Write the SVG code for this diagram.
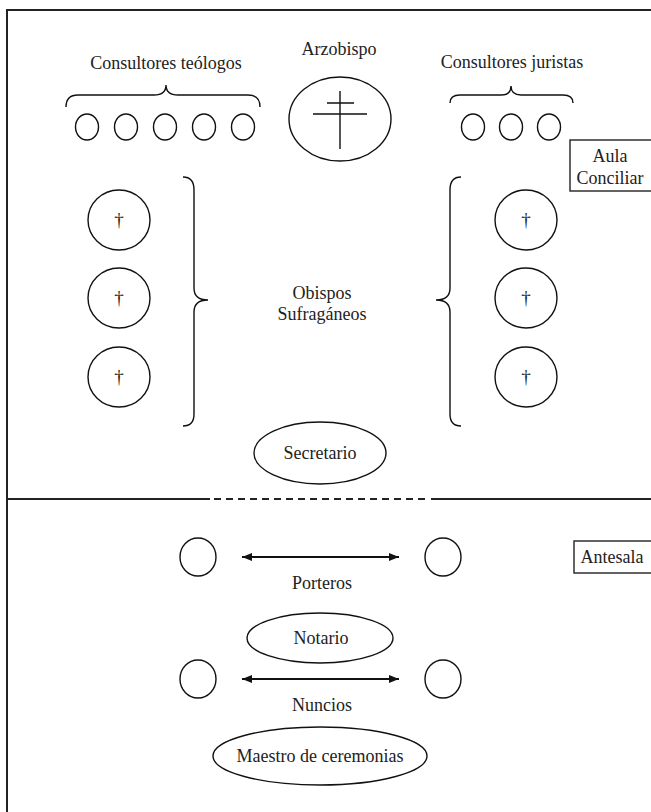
<svg xmlns="http://www.w3.org/2000/svg" width="651" height="812" viewBox="0 0 651 812" font-family="'Liberation Serif', 'Times New Roman', 'DejaVu Serif', serif">
<defs>
<style>
text{font-family:'Liberation Serif','Times New Roman','DejaVu Serif',serif}
.t{font-size:18px;fill:#222;text-anchor:middle}
.d{font-size:19px;fill:#222;text-anchor:middle}
.s{fill:none;stroke:#111;stroke-width:1.4}
.b{fill:none;stroke:#111;stroke-width:1.4}
.f{fill:none;stroke:#222;stroke-width:2}
.box{fill:#fff;stroke:#222;stroke-width:1.4}
</style>
<marker id="ah" viewBox="0 0 10 8" refX="10" refY="4" markerWidth="10" markerHeight="8" markerUnits="userSpaceOnUse" orient="auto-start-reverse">
<path d="M0,0 L10,4 L0,8 z" fill="#111"/>
</marker>
</defs>
<rect width="651" height="812" fill="#fff"/>
<g id="frame">
<path class="f" d="M7,812 L7,10 L660,10"/>
<path class="f" d="M7,499 L210,499"/>
<path class="f" d="M214,499 L428,499" stroke-dasharray="7,5"/>
<path class="f" d="M431,499 L651,499"/>
</g>
<g id="teologos">
<text class="t" x="166" y="69">Consultores teólogos</text>
<ellipse class="s" cx="87" cy="127" rx="11.5" ry="13"/>
<ellipse class="s" cx="126" cy="127" rx="11.5" ry="13"/>
<ellipse class="s" cx="165" cy="127" rx="11.5" ry="13"/>
<ellipse class="s" cx="204" cy="127" rx="11.5" ry="13"/>
<ellipse class="s" cx="243" cy="127" rx="11.5" ry="13"/>
</g>
<g id="arzobispo">
<text class="t" x="339" y="55">Arzobispo</text>
<ellipse class="s" cx="340" cy="119" rx="51" ry="42"/>
<path class="s" d="M340,91 L340,149 M327,103 L354,103 M313,114 L367,114"/>
</g>
<g id="juristas">
<text class="t" x="512" y="68">Consultores juristas</text>
<ellipse class="s" cx="473" cy="127" rx="11.5" ry="13"/>
<ellipse class="s" cx="511" cy="127" rx="11.5" ry="13"/>
<ellipse class="s" cx="549" cy="127" rx="11.5" ry="13"/>
</g>
<g id="aula">
<rect class="box" x="570" y="140" width="90" height="51"/>
<text class="t" x="610" y="162">Aula</text>
<text class="t" x="610" y="184">Conciliar</text>
</g>
<g id="obispos-izq">
<ellipse class="s" cx="119" cy="220" rx="31" ry="30"/>
<text class="d" x="119" y="226">†</text>
<ellipse class="s" cx="119" cy="298" rx="31" ry="30"/>
<text class="d" x="119" y="304">†</text>
<ellipse class="s" cx="119" cy="377" rx="31" ry="30"/>
<text class="d" x="119" y="383">†</text>
</g>
<g id="obispos-der">
<ellipse class="s" cx="526" cy="220" rx="31" ry="30"/>
<text class="d" x="526" y="226">†</text>
<ellipse class="s" cx="526" cy="298" rx="31" ry="30"/>
<text class="d" x="526" y="304">†</text>
<ellipse class="s" cx="526" cy="377" rx="31" ry="30"/>
<text class="d" x="526" y="383">†</text>
</g>
<g id="obispos-label">
<text class="t" x="322" y="299">Obispos</text>
<text class="t" x="322" y="320">Sufragáneos</text>
</g>
<g id="secretario">
<ellipse class="s" cx="320" cy="453" rx="66" ry="31"/>
<text class="t" x="320" y="459">Secretario</text>
</g>
<g id="antesala">
<rect class="box" x="574" y="541" width="90" height="32"/>
<text class="t" x="612" y="563">Antesala</text>
</g>
<g id="porteros">
<ellipse class="s" cx="198" cy="557" rx="18" ry="19"/>
<ellipse class="s" cx="443" cy="557" rx="18" ry="19"/>
<text class="t" x="322" y="589">Porteros</text>
</g>
<g id="notario">
<ellipse class="s" cx="320" cy="638" rx="73" ry="25"/>
<text class="t" x="321" y="644">Notario</text>
</g>
<g id="nuncios">
<ellipse class="s" cx="198" cy="679" rx="18" ry="19"/>
<ellipse class="s" cx="443" cy="679" rx="18" ry="19"/>
<text class="t" x="322" y="711">Nuncios</text>
</g>
<g id="maestro">
<ellipse class="s" cx="320" cy="756" rx="107" ry="29"/>
<text class="t" x="320" y="762">Maestro de ceremonias</text>
</g>
<g id="connectors">
<path class="b" d="M66,107 Q66,95 78,95 L154,95 Q166,95 166,85 Q166,95 178,95 L248,95 Q260,95 260,107"/>
<path class="b" d="M450,103 Q450,95 460,95 L501,95 Q511,95 511,86 Q511,95 521,95 L563,95 Q573,95 573,103"/>
<path class="b" d="M183,177 Q194,177 194,190 L194,288 Q194,300 208,300 Q194,300 194,312 L194,414 Q194,426 183,426"/>
<path class="b" d="M461,177 Q450,177 450,190 L450,288 Q450,300 436,300 Q450,300 450,312 L450,414 Q450,426 461,426"/>
<line x1="242" y1="557" x2="399" y2="557" stroke="#111" stroke-width="1.8" marker-start="url(#ah)" marker-end="url(#ah)"/>
<line x1="242" y1="679" x2="399" y2="679" stroke="#111" stroke-width="1.8" marker-start="url(#ah)" marker-end="url(#ah)"/>
</g>
</svg>
